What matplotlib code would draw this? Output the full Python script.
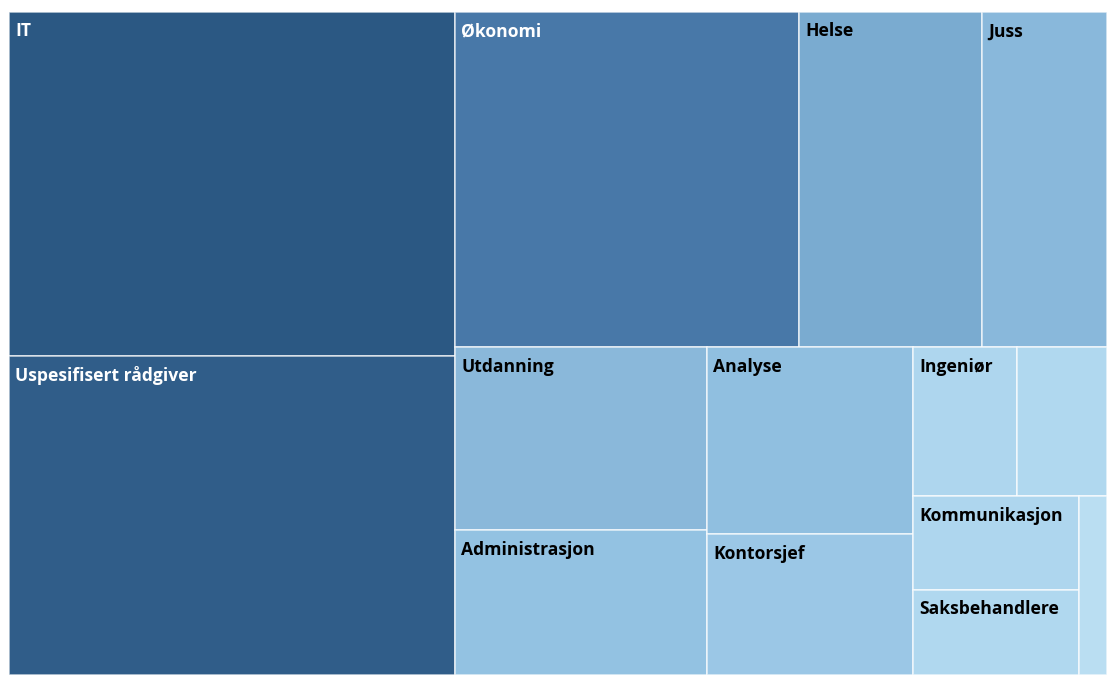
import matplotlib
matplotlib.use('Agg')
import matplotlib.pyplot as plt
from matplotlib.patches import Rectangle

# treemap values
names = ['IT', 'Uspesifisert rådgiver', 'Økonomi', 'Helse', 'Juss',
         'Utdanning', 'Administrasjon', 'Analyse', 'Kontorsjef',
         'Ingeniør', 'Markedsføring', 'Kommunikasjon', 'Saksbehandlere', 'Annet']
values = [153.3, 142.4, 115.2, 61.3, 41.9,
          46.1, 36.5, 38.5, 29.0,
          15.5, 13.4, 15.6, 14.1, 5.0]
colors = ['#2b5883', '#305d89', '#4878a8', '#7aabd0', '#89b8db',
          '#8ab8da', '#93c2e2', '#90bfe0', '#9bc7e6',
          '#aed6ee', '#b0d8ef', '#aed6ee', '#b0d8ef', '#badef2']
text_colors = ['white', 'white', 'white'] + ['black'] * 11

# nesting of the tiles: 'h' = side by side, 'v' = stacked
layout = ('h', [('v', [0, 1]),
                ('v', [('h', [2, 3, 4]),
                       ('h', [('v', [5, 6]),
                              ('v', [7, 8]),
                              ('v', [('h', [9, 10]),
                                     ('h', [('v', [11, 12]), 13])])])])])


def node_sum(node):
  if isinstance(node, int):
    return values[node]
  return sum(node_sum(c) for c in node[1])


def place(node, x, y, w, h, out):
  if isinstance(node, int):
    out[node] = (x, y, w, h)
    return
  kind, kids = node
  tot = node_sum(node)
  pos = 0.0
  for c in kids:
    frac = node_sum(c) / tot
    if kind == 'h':
      place(c, x + pos * w, y, frac * w, h, out)
    else:
      place(c, x, y + pos * h, w, frac * h, out)
    pos += frac


W, H = 1098.0, 663.0
rects = {}
place(layout, 0, 0, W, H, rects)

fig = plt.figure(figsize=(11.07, 6.75), dpi=100)
ax = fig.add_axes([9 / 1107, 0, 1098 / 1107, 663 / 675])
ax.set_xlim(0, W)
ax.set_ylim(H, 0)
ax.axis('off')

fig.canvas.draw()
renderer = fig.canvas.get_renderer()

for i, name in enumerate(names):
  x, y, w, h = rects[i]
  ax.add_patch(Rectangle((x, y), w, h, facecolor=colors[i],
                         edgecolor=(1, 1, 1, 0.75), linewidth=1.1))
  t = ax.annotate(name, xy=(x, y), xytext=(4.3, -7.5), textcoords='offset points',
                  ha='left', va='top', fontsize=12.6, fontweight='bold',
                  family=['Open Sans', 'DejaVu Sans'], color=text_colors[i])
  # hide labels that do not fit in their tile, like the original
  bb = t.get_window_extent(renderer)
  tile_w = ax.transData.transform((x + w, 0))[0] - ax.transData.transform((x, 0))[0]
  if bb.width > tile_w - 10:
    t.set_visible(False)

plt.savefig('out.png', dpi=100)
plt.close('all')
